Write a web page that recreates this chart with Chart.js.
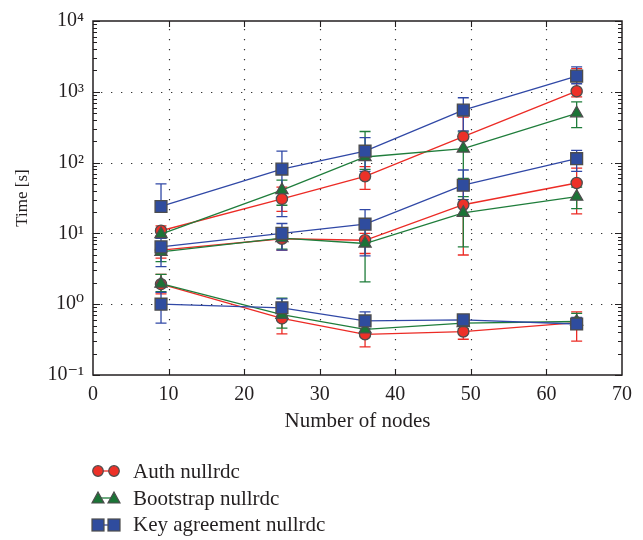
<!DOCTYPE html>
<html><head><meta charset="utf-8">
<script src="https://cdn.jsdelivr.net/npm/chart.js@4.4.0/dist/chart.umd.min.js"></script>
<style>
html,body{margin:0;padding:0;background:#fff;}
#wrap{position:relative;width:643px;height:540px;overflow:hidden;}
canvas{position:absolute;left:0;top:0;}
.legend{position:absolute;left:91px;top:458px;font-family:"Liberation Serif","DejaVu Serif",serif;font-size:21px;color:#231f20;}
.row{height:26.7px;display:flex;align-items:center;white-space:nowrap;}
.row svg{margin-right:12px;}
</style></head>
<body><div id="wrap"><canvas id="c" width="643" height="540"></canvas><div class="legend" id="legend"></div></div>
<script>
// ---- data ----
const nodes = [9, 25, 36, 49, 64];
const xTicks = [0, 10, 20, 30, 40, 50, 60, 70];
const yTickValues = [0.1, 1, 10, 100, 1000, 10000];
const yTickLabels = ['10\u207B\u00B9', '10\u2070', '10\u00B9', '10\u00B2', '10\u00B3', '10\u2074'];
const legendLabels = ['Auth nullrdc', 'Bootstrap nullrdc', 'Key agreement nullrdc'];

const authHigh = [10.9, 30.7, 64, 233, 1019];
const authHighLo = [9.2, 20.5, 41.8, 150, 850];
const authHighHi = [12.8, 45, 88, 438, 2130];
const authMid = [5.8, 8.4, 8.0, 25.4, 51.5];
const authMidLo = [4.47, 5.8, 5.2, 4.95, 18.9];
const authMidHi = [7.5, 11, 10, 42, 83.6];
const authLow = [1.92, 0.63, 0.375, 0.41, 0.55];
const authLowLo = [1.4, 0.38, 0.25, 0.32, 0.30];
const authLowHi = [2.63, 0.85, 0.5, 0.5, 0.78];

const bootHigh = [9.8, 40.8, 120, 158, 497];
const bootHighLo = [8.5, 25, 80, 60, 312];
const bootHighHi = [11.5, 56.6, 275, 272, 720];
const bootMid = [5.5, 8.6, 7.2, 19.5, 33];
const bootMidLo = [4.0, 6.0, 2.07, 6.46, 22.4];
const bootMidHi = [7.0, 11, 14, 33, 45];
const bootLow = [1.95, 0.71, 0.44, 0.54, 0.57];
const bootLowLo = [1.5, 0.46, 0.35, 0.45, 0.45];
const bootLowHi = [2.63, 1.22, 0.55, 0.65, 0.74];

const keyHigh = [24, 81, 145, 552, 1668];
const keyHighLo = [20, 17.2, 75, 281, 1300];
const keyHighHi = [50, 145, 225, 824, 2248];
const keyMid = [6.46, 10, 13.5, 47.9, 113.5];
const keyMidLo = [3.4, 5.8, 4.8, 30, 75];
const keyMidHi = [8.5, 13.8, 21.7, 78.6, 149];
const keyLow = [1.0, 0.89, 0.58, 0.6, 0.525];
const keyLowLo = [0.54, 0.7, 0.45, 0.5, 0.45];
const keyLowHi = [1.47, 1.19, 0.78, 0.7, 0.65];

// ---- styles ----
const RED = '#ec2b25', GREEN = '#1f7d3b', BLUE = '#3048a6';
const RED_F = '#ed3128', GREEN_F = '#1b7436', BLUE_F = '#2f4c9e';
const EDGE = '#4d4d4d';
const FONT = '"Liberation Serif","DejaVu Serif",serif';
const INK = '#231f20';

function ds(label, vals, lo, hi, color, fill, style, order) {
  return {
    label, order, data: nodes.map((x, i) => ({x, y: vals[i]})),
    errLo: lo, errHi: hi,
    borderColor: color, backgroundColor: fill,
    pointBackgroundColor: fill, pointBorderColor: EDGE,
    pointBorderWidth: 1.3, pointStyle: style,
    pointRadius: style === 'rect' ? 8.4 : (style === 'triangle' ? 7 : 5.6),
    borderWidth: 1.3, tension: 0, fill: false
  };
}

const datasets = [
  ds('Auth nullrdc', authHigh, authHighLo, authHighHi, RED, RED_F, 'circle', 3),
  ds('Auth nullrdc', authMid, authMidLo, authMidHi, RED, RED_F, 'circle', 3),
  ds('Auth nullrdc', authLow, authLowLo, authLowHi, RED, RED_F, 'circle', 3),
  ds('Bootstrap nullrdc', bootHigh, bootHighLo, bootHighHi, GREEN, GREEN_F, 'triangle', 2),
  ds('Bootstrap nullrdc', bootMid, bootMidLo, bootMidHi, GREEN, GREEN_F, 'triangle', 2),
  ds('Bootstrap nullrdc', bootLow, bootLowLo, bootLowHi, GREEN, GREEN_F, 'triangle', 2),
  ds('Key agreement nullrdc', keyHigh, keyHighLo, keyHighHi, BLUE, BLUE_F, 'rect', 1),
  ds('Key agreement nullrdc', keyMid, keyMidLo, keyMidHi, BLUE, BLUE_F, 'rect', 1),
  ds('Key agreement nullrdc', keyLow, keyLowLo, keyLowHi, BLUE, BLUE_F, 'rect', 1)
];

const decorPlugin = {
  id: 'decor',
  beforeDatasetsDraw(chart) {
    const {ctx, chartArea: a, scales: {x, y}} = chart;
    ctx.save();
    // dotted grid
    ctx.strokeStyle = '#333';
    ctx.lineWidth = 1.2;
    ctx.setLineDash([1.3, 8.7]);
    yTickValues.slice(1, -1).forEach(v => {
      const py = Math.round(y.getPixelForValue(v)) + 0.5;
      ctx.beginPath(); ctx.moveTo(a.left + 8, py); ctx.lineTo(a.right, py); ctx.stroke();
    });
    xTicks.slice(1, -1).forEach(v => {
      const px = Math.round(x.getPixelForValue(v)) + 0.5;
      ctx.beginPath(); ctx.moveTo(px, a.top + 8); ctx.lineTo(px, a.bottom); ctx.stroke();
    });
    ctx.setLineDash([]);
    // error bars (blue drawn last so it sits on top)
    chart.data.datasets.forEach(d => {
      ctx.strokeStyle = d.borderColor;
      ctx.lineWidth = 1.3;
      nodes.forEach((n, i) => {
        const px = x.getPixelForValue(n);
        const y1 = y.getPixelForValue(d.errLo[i]);
        const y2 = y.getPixelForValue(d.errHi[i]);
        ctx.beginPath();
        ctx.moveTo(px, y1); ctx.lineTo(px, y2);
        ctx.moveTo(px - 5.5, y1); ctx.lineTo(px + 5.5, y1);
        ctx.moveTo(px - 5.5, y2); ctx.lineTo(px + 5.5, y2);
        ctx.stroke();
      });
    });
    ctx.restore();
  },
  afterDraw(chart) {
    const {ctx, chartArea: a, scales: {x, y}} = chart;
    ctx.save();
    ctx.strokeStyle = INK;
    ctx.lineWidth = 1.5;
    ctx.strokeRect(a.left, a.top, a.right - a.left, a.bottom - a.top);
    ctx.lineWidth = 1.1;
    ctx.beginPath();
    for (let e = -1; e <= 4; e++) {
      for (let m = 1; m <= 9; m++) {
        const v = m * Math.pow(10, e);
        if (v > 10000 + 1e-9) break;
        const py = Math.round(y.getPixelForValue(v)) + 0.5;
        const len = m === 1 ? 7 : 4;
        ctx.moveTo(a.left, py); ctx.lineTo(a.left + len, py);
        ctx.moveTo(a.right, py); ctx.lineTo(a.right - len, py);
      }
    }
    xTicks.slice(1, -1).forEach(v => {
      const px = Math.round(x.getPixelForValue(v)) + 0.5;
      ctx.moveTo(px, a.bottom); ctx.lineTo(px, a.bottom - 6);
      ctx.moveTo(px, a.top); ctx.lineTo(px, a.top + 6);
    });
    ctx.stroke();
    ctx.restore();
  }
};

new Chart(document.getElementById('c'), {
  type: 'line',
  data: {datasets},
  options: {
    responsive: false, animation: false, devicePixelRatio: 1,
    layout: {padding: {top: 11, right: 21, bottom: 106, left: 0}},
    plugins: {legend: {display: false}, tooltip: {enabled: false}},
    scales: {
      x: {
        type: 'linear', min: 0, max: 70,
        afterBuildTicks: ax => { ax.ticks = xTicks.map(v => ({value: v})); },
        ticks: {font: {family: FONT, size: 20}, color: INK, padding: 8, maxRotation: 0},
        grid: {display: false, drawTicks: false}, border: {display: false},
        title: {display: true, text: 'Number of nodes', font: {family: FONT, size: 21}, color: INK, padding: {top: 0, bottom: 0}},
        afterFit: s => { s.height = 59; }
      },
      y: {
        type: 'logarithmic', min: 0.1, max: 10000,
        afterBuildTicks: ax => { ax.ticks = yTickValues.map(v => ({value: v})); },
        ticks: {font: {family: FONT, size: 20}, color: INK, padding: 9, callback: (v, i) => yTickLabels[i]},
        grid: {display: false, drawTicks: false}, border: {display: false},
        title: {display: true, text: 'Time [s]', font: {family: FONT, size: 17}, color: INK, padding: {top: 12, bottom: 0}},
        afterFit: s => { s.width = 93; }
      }
    }
  },
  plugins: [decorPlugin]
});

// ---- HTML legend ----
const legendStyles = [['circle', RED, RED_F], ['triangle', GREEN, GREEN_F], ['rect', BLUE, BLUE_F]];
const lg = document.getElementById('legend');
legendLabels.forEach((t, i) => {
  const [st, lc, fc] = legendStyles[i];
  const mk = cx => st === 'circle'
    ? `<circle cx="${cx}" cy="8" r="5.3" fill="${fc}" stroke="${EDGE}" stroke-width="1.2"/>`
    : st === 'triangle'
    ? `<polygon points="${cx},2 ${cx + 6},13 ${cx - 6},13" fill="${fc}" stroke="${EDGE}" stroke-width="1.2"/>`
    : `<rect x="${cx - 6}" y="2" width="12" height="12" fill="${fc}" stroke="${EDGE}" stroke-width="1.2"/>`;
  const row = document.createElement('div');
  row.className = 'row';
  row.innerHTML = `<svg width="30" height="16"><line x1="7" y1="8" x2="23" y2="8" stroke="${lc}" stroke-width="1.3"/>${mk(7)}${mk(23)}</svg><span>${t}</span>`;
  lg.appendChild(row);
});
</script>
</body></html>
